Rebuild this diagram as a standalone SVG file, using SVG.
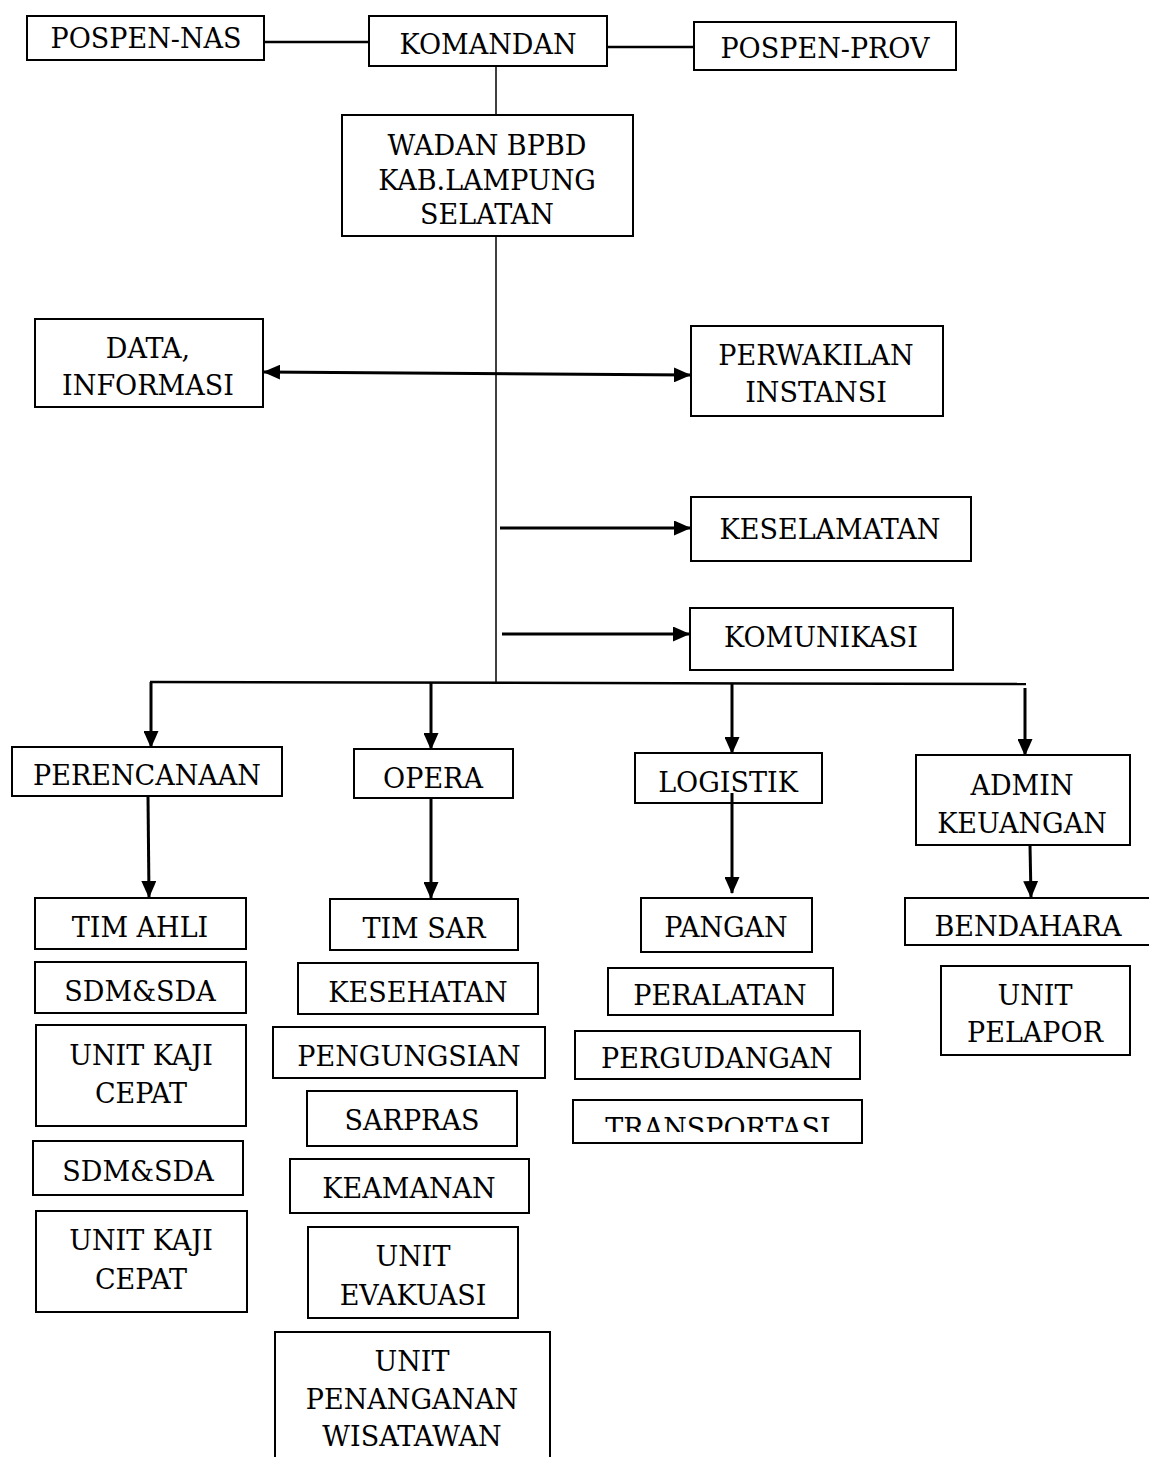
<svg xmlns="http://www.w3.org/2000/svg" width="1149" height="1457" viewBox="0 0 1149 1457">
<style>
.box{fill:#fff;stroke:#000;stroke-width:2}
text{font-family:"DejaVu Serif","Liberation Serif",serif;font-size:27px;fill:#000;text-anchor:middle}
.c{stroke:#000;fill:none}
.thin{stroke-width:1.5}
.med{stroke-width:2.5}
.thick{stroke-width:3}
</style>
<defs>
<marker id="ah" markerUnits="userSpaceOnUse" markerWidth="17" markerHeight="15" refX="16" refY="7.5" orient="auto-start-reverse">
<path d="M0,0 L17,7.5 L0,15 z" fill="#000"/>
</marker>
<clipPath id="clipT"><rect x="573" y="1100" width="289" height="32"/></clipPath>
</defs>
<rect width="1149" height="1457" fill="#fff"/>
<g id="nodes">
<g id="pospen-nas"><rect class="box" x="27" y="16" width="237" height="44"/><text x="146" y="48">POSPEN-NAS</text></g>
<g id="komandan"><rect class="box" x="369" y="16" width="238" height="50"/><text x="488" y="54">KOMANDAN</text></g>
<g id="pospen-prov"><rect class="box" x="694" y="22" width="262" height="48"/><text x="825" y="58">POSPEN-PROV</text></g>
<g id="wadan"><rect class="box" x="342" y="115" width="291" height="121"/><text x="487" y="155">WADAN BPBD</text><text x="487" y="190">KAB.LAMPUNG</text><text x="487" y="224">SELATAN</text></g>
<g id="data-informasi"><rect class="box" x="35" y="319" width="228" height="88"/><text x="148" y="358">DATA,</text><text x="148" y="395">INFORMASI</text></g>
<g id="perwakilan-instansi"><rect class="box" x="691" y="326" width="252" height="90"/><text x="816" y="365">PERWAKILAN</text><text x="816" y="402">INSTANSI</text></g>
<g id="keselamatan"><rect class="box" x="691" y="497" width="280" height="64"/><text x="830" y="539">KESELAMATAN</text></g>
<g id="komunikasi"><rect class="box" x="690" y="608" width="263" height="62"/><text x="821" y="647">KOMUNIKASI</text></g>
<g id="perencanaan"><rect class="box" x="12" y="747" width="270" height="49"/><text x="147" y="785">PERENCANAAN</text></g>
<g id="opera"><rect class="box" x="354" y="749" width="159" height="49"/><text x="433" y="788">OPERA</text></g>
<g id="logistik"><rect class="box" x="635" y="753" width="187" height="50"/><text x="728" y="792">LOGISTIK</text></g>
<g id="admin-keuangan"><rect class="box" x="916" y="755" width="214" height="90"/><text x="1022" y="795">ADMIN</text><text x="1022" y="833">KEUANGAN</text></g>
<g id="tim-ahli"><rect class="box" x="35" y="898" width="211" height="51"/><text x="140" y="937">TIM AHLI</text></g>
<g id="sdm-sda-1"><rect class="box" x="35" y="962" width="211" height="51"/><text x="140" y="1001">SDM&amp;SDA</text></g>
<g id="unit-kaji-cepat-1"><rect class="box" x="36" y="1025" width="210" height="101"/><text x="141" y="1065">UNIT KAJI</text><text x="141" y="1103">CEPAT</text></g>
<g id="sdm-sda-2"><rect class="box" x="33" y="1141" width="210" height="54"/><text x="138" y="1181">SDM&amp;SDA</text></g>
<g id="unit-kaji-cepat-2"><rect class="box" x="36" y="1211" width="211" height="101"/><text x="141" y="1250">UNIT KAJI</text><text x="141" y="1289">CEPAT</text></g>
<g id="tim-sar"><rect class="box" x="330" y="899" width="188" height="51"/><text x="424" y="938">TIM SAR</text></g>
<g id="kesehatan"><rect class="box" x="298" y="963" width="240" height="51"/><text x="418" y="1002">KESEHATAN</text></g>
<g id="pengungsian"><rect class="box" x="273" y="1027" width="272" height="51"/><text x="409" y="1066">PENGUNGSIAN</text></g>
<g id="sarpras"><rect class="box" x="307" y="1091" width="210" height="55"/><text x="412" y="1130">SARPRAS</text></g>
<g id="keamanan"><rect class="box" x="290" y="1159" width="239" height="54"/><text x="409" y="1198">KEAMANAN</text></g>
<g id="unit-evakuasi"><rect class="box" x="308" y="1227" width="210" height="91"/><text x="413" y="1266">UNIT</text><text x="413" y="1305">EVAKUASI</text></g>
<g id="unit-penanganan-wisatawan"><rect class="box" x="275" y="1332" width="275" height="135"/><text x="412" y="1371">UNIT</text><text x="412" y="1409">PENANGANAN</text><text x="412" y="1446">WISATAWAN</text></g>
<g id="pangan"><rect class="box" x="641" y="898" width="171" height="54"/><text x="726" y="937">PANGAN</text></g>
<g id="peralatan"><rect class="box" x="608" y="968" width="225" height="47"/><text x="720" y="1005">PERALATAN</text></g>
<g id="pergudangan"><rect class="box" x="575" y="1031" width="285" height="48"/><text x="717" y="1068">PERGUDANGAN</text></g>
<g id="transportasi"><rect class="box" x="573" y="1100" width="289" height="43"/><text x="718" y="1138" clip-path="url(#clipT)">TRANSPORTASI</text></g>
<g id="bendahara"><rect class="box" x="905" y="898" width="250" height="47"/><text x="1028" y="936">BENDAHARA</text></g>
<g id="unit-pelapor"><rect class="box" x="941" y="966" width="189" height="89"/><text x="1035" y="1005">UNIT</text><text x="1035" y="1042">PELAPOR</text></g>
</g>
<g id="connectors">
<line class="c med" x1="264" y1="42" x2="369" y2="42"/>
<line class="c med" x1="607" y1="47" x2="694" y2="47"/>
<line class="c thin" x1="496" y1="66" x2="496" y2="115"/>
<line class="c thin" x1="496" y1="236" x2="496" y2="683"/>
<line class="c thick" x1="264" y1="372" x2="690" y2="375" marker-start="url(#ah)" marker-end="url(#ah)"/>
<line class="c thick" x1="500" y1="528" x2="690" y2="528" marker-end="url(#ah)"/>
<line class="c thick" x1="502" y1="634" x2="689" y2="634" marker-end="url(#ah)"/>
<line class="c med" x1="150" y1="682" x2="1026" y2="684"/>
<line class="c thick" x1="151" y1="682" x2="151" y2="747" marker-end="url(#ah)"/>
<line class="c thick" x1="431" y1="683" x2="431" y2="749" marker-end="url(#ah)"/>
<line class="c thick" x1="732" y1="684" x2="732" y2="753" marker-end="url(#ah)"/>
<line class="c thick" x1="1025" y1="688" x2="1025" y2="755" marker-end="url(#ah)"/>
<line class="c thick" x1="148" y1="796" x2="149" y2="897" marker-end="url(#ah)"/>
<line class="c thick" x1="431" y1="798" x2="431" y2="898" marker-end="url(#ah)"/>
<line class="c thick" x1="732" y1="793" x2="732" y2="893" marker-end="url(#ah)"/>
<line class="c thick" x1="1030" y1="845" x2="1031" y2="897" marker-end="url(#ah)"/>
</g>
</svg>
